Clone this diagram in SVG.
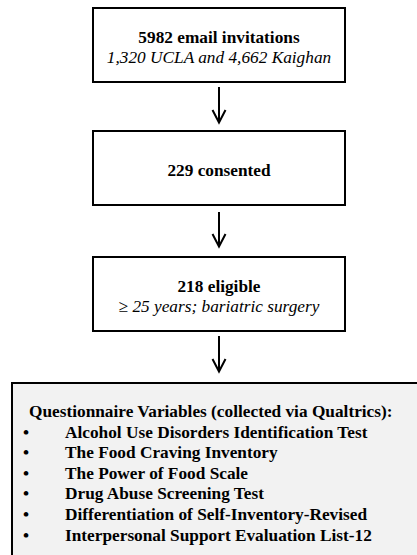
<svg xmlns="http://www.w3.org/2000/svg" width="417" height="555" viewBox="0 0 417 555">
  <defs>
    <style>
      .box { fill: #ffffff; stroke: #000000; stroke-width: 2; }
      .panel { fill: #f2f2f2; stroke: #000000; stroke-width: 2; }
      .t { font-family: "Liberation Serif", "Times New Roman", serif; font-size: 17.3px; fill: #000000; }
      .b { font-weight: bold; }
      .i { font-style: italic; }
      .mid { text-anchor: middle; }
      .flow line, .flow polyline { fill: none; stroke: #000000; stroke-width: 2; }
    </style>
  </defs>
  <rect width="417" height="555" fill="#ffffff"/>

  <!-- connectors -->
  <g id="connectors" class="flow">
    <line x1="219" y1="87" x2="219" y2="122"/>
    <polyline points="212.5,110 219,122.5 225.5,110"/>
    <line x1="219" y1="212" x2="219" y2="246"/>
    <polyline points="212.5,234 219,246.5 225.5,234"/>
    <line x1="219" y1="336" x2="219" y2="371"/>
    <polyline points="212.5,359 219,371.5 225.5,359"/>
  </g>

  <g id="invitations">
    <rect class="box" x="93" y="8" width="252" height="74"/>
    <text class="t b mid" x="219" y="43">5982 email invitations</text>
    <text class="t i mid" x="219" y="63">1,320 UCLA and 4,662 Kaighan</text>
  </g>

  <g id="consented">
    <rect class="box" x="93" y="131" width="252" height="74"/>
    <text class="t b mid" x="219" y="176">229 consented</text>
  </g>

  <g id="eligible">
    <rect class="box" x="93" y="257" width="252" height="74"/>
    <text class="t b mid" x="219" y="292">218 eligible</text>
    <text class="t i mid" x="219" y="312">≥ 25 years; bariatric surgery</text>
  </g>

  <g id="questionnaire">
    <rect class="panel" x="12" y="383" width="430" height="200"/>
    <text class="t b" x="29" y="417">Questionnaire Variables (collected via Qualtrics):</text>
    <g class="t b">
      <text x="23" y="437.5">•</text>
      <text x="65" y="437.5">Alcohol Use Disorders Identification Test</text>
      <text x="23" y="458.1">•</text>
      <text x="65" y="458.1">The Food Craving Inventory</text>
      <text x="23" y="478.7">•</text>
      <text x="65" y="478.7">The Power of Food Scale</text>
      <text x="23" y="499.3">•</text>
      <text x="65" y="499.3">Drug Abuse Screening Test</text>
      <text x="23" y="519.9">•</text>
      <text x="65" y="519.9">Differentiation of Self-Inventory-Revised</text>
      <text x="23" y="540.5">•</text>
      <text x="65" y="540.5">Interpersonal Support Evaluation List-12</text>
    </g>
  </g>
</svg>
